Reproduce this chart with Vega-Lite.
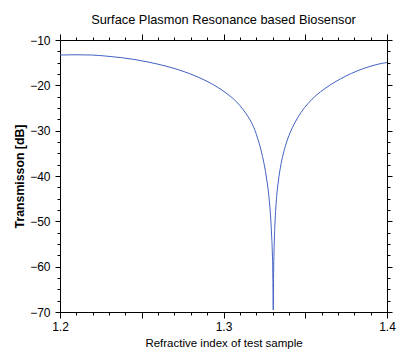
{
  "$schema": "https://vega.github.io/schema/vega-lite/v6.json",
  "width": 327,
  "height": 272,
  "autosize": "none",
  "padding": {"left": 60, "top": 40, "right": 13, "bottom": 44},
  "background": "white",
  "title": {
    "text": "Surface Plasmon Resonance based Biosensor",
    "font": "Liberation Sans",
    "fontSize": 12.8,
    "fontWeight": "normal",
    "color": "black",
    "frame": "group",
    "anchor": "middle",
    "offset": 7
  },
  "config": {
    "view": {"stroke": null},
    "axis": {
      "grid": false,
      "domainColor": "black",
      "tickColor": "black",
      "labelColor": "black",
      "titleColor": "black",
      "labelFont": "Liberation Sans",
      "titleFont": "Liberation Sans",
      "labelFontSize": 12,
      "titleFontSize": 11.5,
      "titleFontWeight": "normal"
    }
  },
  "data": {
    "values": [
      {"n": 1.2, "t": -13.31},
      {"n": 1.20917, "t": -13.26},
      {"n": 1.21939, "t": -13.31},
      {"n": 1.22875, "t": -13.57},
      {"n": 1.23774, "t": -13.9},
      {"n": 1.24587, "t": -14.32},
      {"n": 1.25382, "t": -14.85},
      {"n": 1.26116, "t": -15.43},
      {"n": 1.2685, "t": -16.13},
      {"n": 1.27584, "t": -16.97},
      {"n": 1.28318, "t": -17.99},
      {"n": 1.29052, "t": -19.22},
      {"n": 1.29664, "t": -20.48},
      {"n": 1.30275, "t": -22.02},
      {"n": 1.30807, "t": -23.68},
      {"n": 1.31193, "t": -25.33},
      {"n": 1.31498, "t": -26.88},
      {"n": 1.31743, "t": -28.42},
      {"n": 1.31927, "t": -29.96},
      {"n": 1.3211, "t": -31.95},
      {"n": 1.32263, "t": -33.82},
      {"n": 1.32385, "t": -35.7},
      {"n": 1.32508, "t": -37.79},
      {"n": 1.3263, "t": -40.44},
      {"n": 1.3274, "t": -43.31},
      {"n": 1.32826, "t": -46.4},
      {"n": 1.32887, "t": -49.26},
      {"n": 1.32942, "t": -53.01},
      {"n": 1.32985, "t": -56.76},
      {"n": 1.33015, "t": -61.18},
      {"n": 1.33034, "t": -66.25},
      {"n": 1.33043, "t": -69.56},
      {"n": 1.33052, "t": -65.15},
      {"n": 1.3307, "t": -60.29},
      {"n": 1.33101, "t": -55.22},
      {"n": 1.33144, "t": -50.81},
      {"n": 1.33199, "t": -47.06},
      {"n": 1.33272, "t": -43.75},
      {"n": 1.33364, "t": -40.88},
      {"n": 1.33486, "t": -38.01},
      {"n": 1.33639, "t": -35.37},
      {"n": 1.33823, "t": -32.94},
      {"n": 1.34067, "t": -30.51},
      {"n": 1.34373, "t": -28.2},
      {"n": 1.3474, "t": -25.99},
      {"n": 1.35168, "t": -24.01},
      {"n": 1.35657, "t": -22.24},
      {"n": 1.36208, "t": -20.7},
      {"n": 1.3682, "t": -19.26},
      {"n": 1.37492, "t": -17.94},
      {"n": 1.38165, "t": -16.84},
      {"n": 1.38838, "t": -15.96},
      {"n": 1.3945, "t": -15.34},
      {"n": 1.4, "t": -14.96}
    ]
  },
  "layer": [
    {
      "mark": {"type": "line", "color": "#4262C4", "strokeWidth": 1, "interpolate": "monotone", "clip": true},
      "encoding": {
        "x": {
          "field": "n", "type": "quantitative",
          "scale": {"domain": [1.2, 1.4], "nice": false, "zero": false},
          "axis": {
            "orient": "bottom",
            "values": [1.2, 1.25, 1.3, 1.35, 1.4],
            "format": ".1f",
            "labelExpr": "(round(datum.value * 100) % 10 == 0) ? datum.label : ''",
            "tickSize": 6,
            "labelPadding": 3,
            "labelFlush": false,
            "labelOverlap": false,
            "title": "Refractive index of test sample",
            "titlePadding": 5
          }
        },
        "y": {
          "field": "t", "type": "quantitative",
          "scale": {"domain": [-70, -10], "nice": false, "zero": false},
          "axis": {
            "orient": "left",
            "values": [-10, -20, -30, -40, -50, -60, -70],
            "tickSize": 5,
            "labelPadding": 5,
            "labelFlush": false,
            "labelOverlap": false,
            "title": "Transmisson [dB]",
            "titleFontWeight": "bold",
            "titleFontSize": 12.3,
            "titlePadding": 3
          }
        }
      }
    },
    {
      "mark": {"type": "line", "opacity": 0},
      "encoding": {
        "x": {
          "field": "n", "type": "quantitative",
          "axis": {"orient": "top", "values": [1.2, 1.25, 1.3, 1.35, 1.4], "labels": false, "tickSize": 6, "title": null}
        },
        "y": {
          "field": "t", "type": "quantitative",
          "axis": {"orient": "right", "values": [-10, -20, -30, -40, -50, -60, -70], "labels": false, "tickSize": 5, "title": null}
        }
      }
    },
    {
      "mark": {"type": "line", "opacity": 0},
      "encoding": {
        "x": {
          "field": "n", "type": "quantitative",
          "axis": {"orient": "bottom", "values": [1.21, 1.22, 1.23, 1.24, 1.26, 1.27, 1.28, 1.29, 1.31, 1.32, 1.33, 1.34, 1.36, 1.37, 1.38, 1.39], "labels": false, "domain": false, "tickSize": 3, "title": null}
        },
        "y": {
          "field": "t", "type": "quantitative",
          "axis": {"orient": "left", "values": [-12.5, -15, -17.5, -22.5, -25, -27.5, -32.5, -35, -37.5, -42.5, -45, -47.5, -52.5, -55, -57.5, -62.5, -65, -67.5], "labels": false, "domain": false, "tickSize": 3, "title": null}
        }
      }
    },
    {
      "mark": {"type": "line", "opacity": 0},
      "encoding": {
        "x": {
          "field": "n", "type": "quantitative",
          "axis": {"orient": "top", "values": [1.21, 1.22, 1.23, 1.24, 1.26, 1.27, 1.28, 1.29, 1.31, 1.32, 1.33, 1.34, 1.36, 1.37, 1.38, 1.39], "labels": false, "domain": false, "tickSize": 3, "title": null}
        },
        "y": {
          "field": "t", "type": "quantitative",
          "axis": {"orient": "right", "values": [-12.5, -15, -17.5, -22.5, -25, -27.5, -32.5, -35, -37.5, -42.5, -45, -47.5, -52.5, -55, -57.5, -62.5, -65, -67.5], "labels": false, "domain": false, "tickSize": 3, "title": null}
        }
      }
    }
  ],
  "resolve": {"axis": {"x": "independent", "y": "independent"}}
}
